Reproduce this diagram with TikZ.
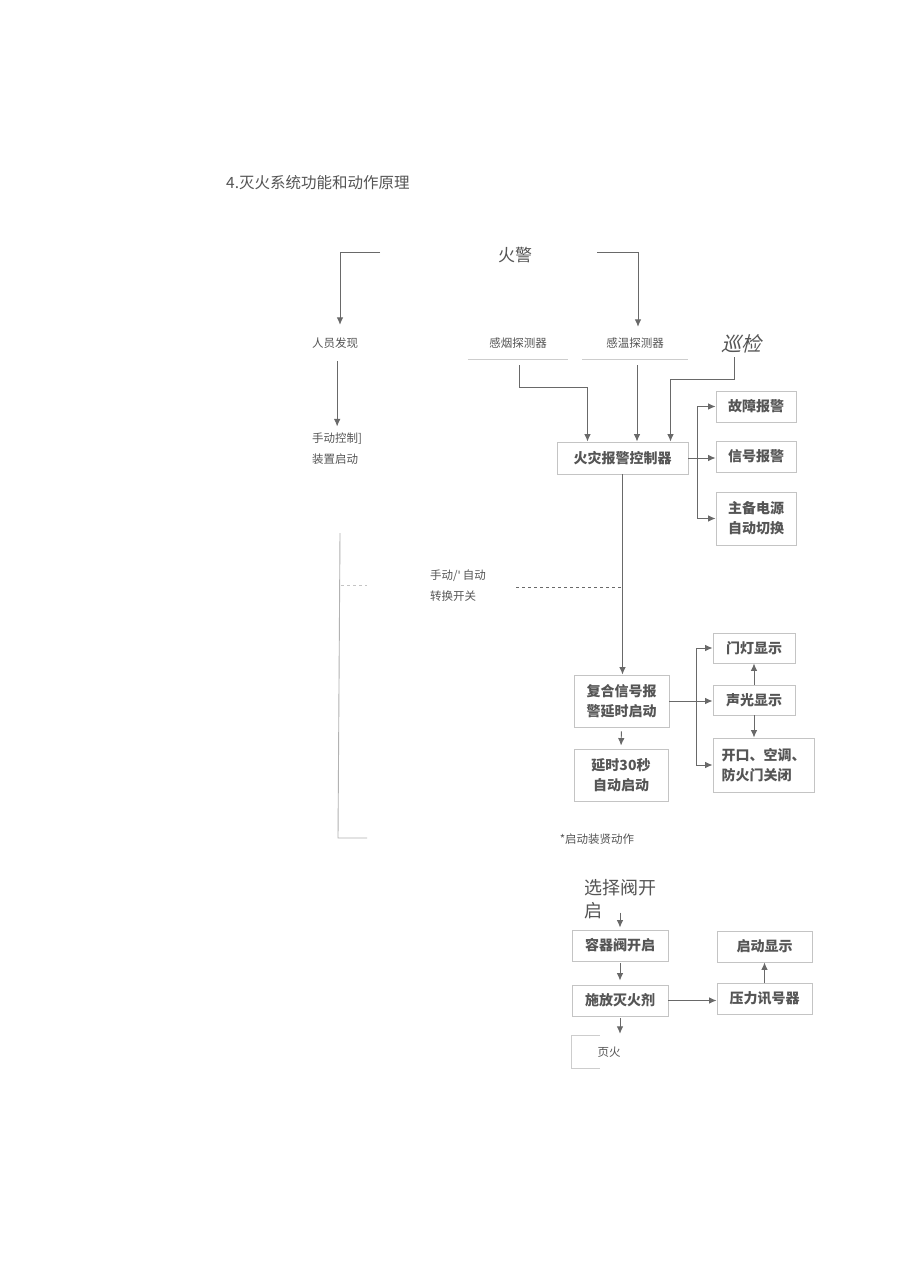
\documentclass[tikz,border=0pt]{standalone}
\usepackage{fontspec}
\setmainfont{Noto Sans CJK SC}
\newfontfamily\latinfont{DejaVu Sans}
\usepackage{tikz}
\usetikzlibrary{arrows.meta}
\definecolor{linegray}{RGB}{105,105,105}
\definecolor{boxgray}{RGB}{196,196,196}
\definecolor{textgray}{RGB}{85,85,85}
\definecolor{faintgray}{RGB}{205,205,205}
\tikzstyle{box} = [rectangle, draw=boxgray, line width=0.9pt, text=textgray, font=\fontsize{14}{20}\selectfont\bfseries, align=center, inner sep=2pt]
\tikzstyle{lbl} = [text=textgray, font=\fontsize{11.5}{21}\selectfont, align=left, inner sep=0pt]
\tikzstyle{big} = [text=textgray, font=\fontsize{17}{23}\selectfont, align=left, inner sep=0pt]
\tikzstyle{arrow} = [line width=0.9pt, draw=linegray, -{Latex[length=7.5pt,width=6.5pt]}]
\tikzstyle{faint} = [line width=0.9pt, draw=faintgray]
\tikzstyle{switchline} = [line width=0.9pt, draw=linegray, dashed]

\begin{document}
\begin{tikzpicture}[x=1pt,y=-1pt]
\path[fill=white, use as bounding box] (0,0) rectangle (920,1276);
\node (title) [text=textgray, font=\fontsize{15.5}{18}\selectfont, anchor=west, inner sep=0pt] at (226,183) {4.灭火系统功能和动作原理};
% alarm sources
\node (fire) [big] at (515,255) {火警};
\coordinate (fireL) at (380,252);
\coordinate (fireR) at (597,252);
\node (person) [lbl, minimum height=36] at (335,343) {人员发现};
\node (smoke) [lbl, minimum width=100, minimum height=32] at (518,343) {感烟探测器};
\node (heat) [lbl, minimum width=105, minimum height=32] at (635,343) {感温探测器};
\node (patrol) [big, font=\fontsize{20}{24}\selectfont, xslant=0.25] at (743,344) {巡检};
\node (manual) [lbl, anchor=west, inner ysep=6pt] at (312,448.5) {手动控制]\\装置启动};
\draw[faint] (smoke.south west) -- (smoke.south east);
\draw[faint] (heat.south west) -- (heat.south east);
\draw[arrow] (fireL) -| ([xshift=5]person.north);
\draw[arrow] (fireR) -| ([xshift=3]heat.north);
\draw[arrow] (person.south -| manual.north) -- (manual.north);
% controller
\node (ctrl) [box, minimum width=131, minimum height=32] at (622.5,458) {火灾报警控制器};
\node (fault) [box, minimum width=80, minimum height=31] at (756,406.5) {故障报警};
\node (sig) [box, minimum width=80, minimum height=31] at (756,456.5) {信号报警};
\node (power) [box, minimum width=80, minimum height=53] at (756,518.5) {主备电源\\自动切换};
\draw[arrow, shorten <=6pt] ([xshift=1]smoke.south) |- ([xshift=-35,yshift=54]ctrl.north) -- ([xshift=-35]ctrl.north);
\draw[arrow, shorten <=6pt] ([xshift=2]heat.south) -- ([xshift=2]heat.south |- ctrl.north);
\draw[arrow, shorten <=4pt] ([xshift=-6]patrol.south) |- ([xshift=48,yshift=62]ctrl.north) -- ([xshift=48]ctrl.north);
\draw[arrow] (ctrl.east) -- (ctrl.east -| sig.west);
\draw[arrow] ([xshift=9]ctrl.east) |- (fault.west);
\draw[arrow] ([xshift=9]ctrl.east) |- (power.west);
% manual / auto switch
\node (switch) [lbl, anchor=west] at (430,586) {手动/{\latinfont\symbol{39}}\,自动\\转换开关};
\coordinate (sw) at (516,587);
\draw[switchline] (sw) -- (sw -| ctrl.south);
\draw[switchline, draw=boxgray] (341,585) -- (367,585);
\draw[line width=0.9pt, draw=gray!60] (340,533) -- (338,838) -- (367,838);
% delayed start
\node (comp) [box, minimum width=95, minimum height=52] at (621.5,701) {复合信号报\\警延时启动};
\node (delay) [box, minimum width=94, minimum height=52] at (621,775) {延时30秒\\自动启动};
\node (door) [box, minimum width=82, minimum height=30] at (754,648) {门灯显示};
\node (sound) [box, minimum width=82, minimum height=30] at (754,700) {声光显示};
\node (close) [box, minimum width=101, minimum height=54, align=left] at (763.5,765) {开口、空调、\\防火门关闭};
\draw[arrow] (ctrl.south) -- (ctrl.south |- comp.north);
\draw[arrow, shorten <=4pt, shorten >=3pt] (comp.south) -- (delay.north);
\draw[arrow] (comp.east) -- (comp.east -| sound.west);
\draw[arrow] ([xshift=27]comp.east) |- (door.west);
\draw[arrow] ([xshift=27]comp.east) |- (close.west);
\draw[arrow] (sound.north) -- (door.south);
\draw[arrow] (sound.south) -- (sound.south |- close.north);
\node (note) [lbl] at (597,839) {*启动装贤动作};
% release
\node (sel) [big, font=\fontsize{18}{23}\selectfont, anchor=north west] at (584,879) {选择阀开\\启};
\node (cont) [box, minimum width=96, minimum height=31] at (620,945.5) {容器阀开启};
\node (release) [box, minimum width=96, minimum height=31] at (620,1000.5) {施放灭火剂};
\node (press) [box, minimum width=95, minimum height=31] at (764.5,998.5) {压力讯号器};
\node (startdisp) [box, minimum width=95, minimum height=31] at (764.5,946.5) {启动显示};
\node (out) [lbl, minimum height=32] at (609,1052) {页火};
\draw[arrow, shorten >=2pt] ([yshift=17]cont.north) -- (cont.north);
\draw[arrow, shorten <=2pt, shorten >=4pt] (cont.south) -- (release.north);
\draw[arrow] (release.east) -- (press.west |- release.east);
\draw[arrow] (press.north) -- (startdisp.south);
\draw[arrow, shorten <=2pt, shorten >=2pt] (release.south) -- (release.south |- out.north);
\draw[faint] ([xshift=28]release.south west |- out.north) -| (release.south west |- out.south) -- ++(28,0);
\end{tikzpicture}
\end{document}
